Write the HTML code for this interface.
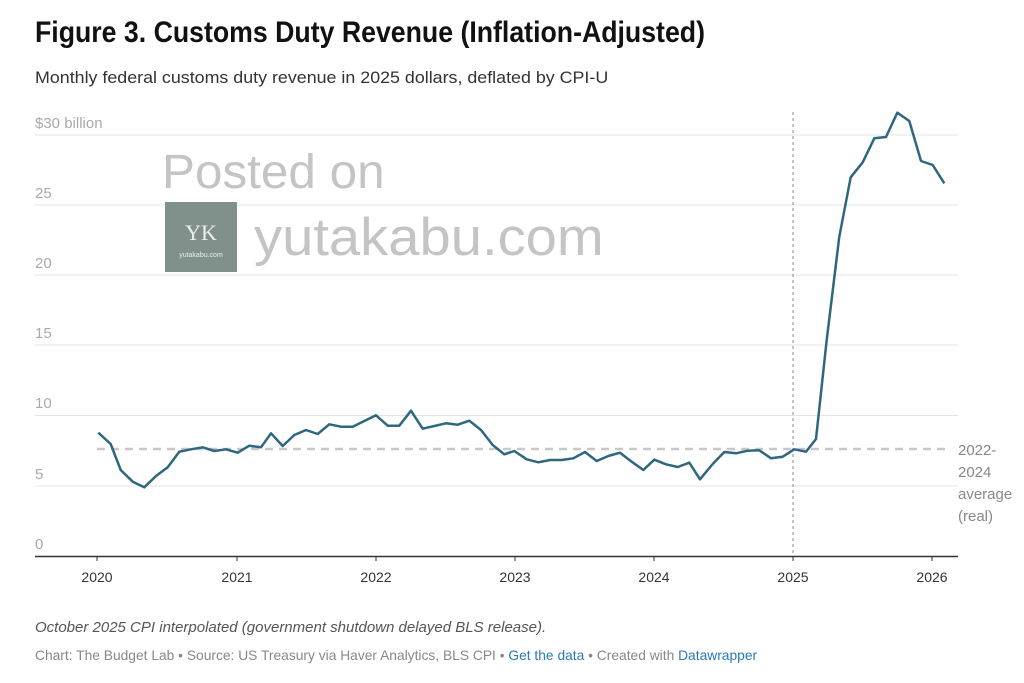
<!DOCTYPE html>
<html><head><meta charset="utf-8"><style>
body{margin:0;background:#fff;width:1024px;height:683px;overflow:hidden;font-family:"Liberation Sans",sans-serif;}
svg{position:absolute;left:0;top:0}
</style></head><body>
<svg width="1024" height="683" xmlns="http://www.w3.org/2000/svg" font-family="Liberation Sans, sans-serif">
<text x="35" y="42" font-size="30" font-weight="bold" fill="#111" transform="translate(35 0) scale(0.89 1) translate(-35 0)">Figure 3. Customs Duty Revenue (Inflation-Adjusted)</text>
<text x="35" y="83" font-size="17" fill="#333" transform="translate(35 0) scale(1.05 1) translate(-35 0)">Monthly federal customs duty revenue in 2025 dollars, deflated by CPI-U</text>
<g stroke="#e4e4e4" stroke-width="1">
<line x1="35" x2="958" y1="135" y2="135"/><line x1="35" x2="958" y1="205" y2="205"/>
<line x1="35" x2="958" y1="275" y2="275"/><line x1="35" x2="958" y1="345" y2="345"/>
<line x1="35" x2="958" y1="415.5" y2="415.5"/><line x1="35" x2="958" y1="486" y2="486"/>
</g>
<g font-size="15" fill="#aaa">
<text x="35" y="128">$30 billion</text><text x="35" y="198">25</text><text x="35" y="268">20</text>
<text x="35" y="338">15</text><text x="35" y="408">10</text><text x="35" y="479">5</text><text x="35" y="549">0</text>
</g>
<text x="162" y="188" font-size="48" fill="#c4c4c4" transform="translate(162 0) scale(1.03 1) translate(-162 0)">Posted on</text>
<rect x="165" y="202" width="72" height="70" fill="#7f918a"/>
<text x="201" y="240" font-size="22" fill="#eee" text-anchor="middle" font-family="Liberation Serif, serif">YK</text>
<text x="201" y="257" font-size="7" fill="#eee" text-anchor="middle">yutakabu.com</text>
<text x="254" y="255" font-size="53" fill="#c4c4c4" transform="translate(254 0) scale(1.06 1) translate(-254 0)">yutakabu.com</text>
<line x1="97" x2="945" y1="449" y2="449" stroke="#c8c8c8" stroke-width="2.5" stroke-dasharray="8,6"/>
<line x1="793" x2="793" y1="112" y2="556" stroke="#888" stroke-width="1" stroke-dasharray="3,3"/>
<line x1="35" x2="958" y1="556.5" y2="556.5" stroke="#333" stroke-width="1.5"/>
<g stroke="#333"><line x1="97" x2="97" y1="556" y2="561"/><line x1="237" x2="237" y1="556" y2="561"/><line x1="376" x2="376" y1="556" y2="561"/><line x1="515" x2="515" y1="556" y2="561"/><line x1="654" x2="654" y1="556" y2="561"/><line x1="793" x2="793" y1="556" y2="561"/><line x1="932" x2="932" y1="556" y2="561"/></g>
<g font-size="14" fill="#333" text-anchor="middle">
<text x="97" y="582">2020</text><text x="237" y="582">2021</text><text x="376" y="582">2022</text><text x="515" y="582">2023</text><text x="654" y="582">2024</text><text x="793" y="582">2025</text><text x="932" y="582">2026</text>
</g>
<polyline fill="none" stroke="#2f6680" stroke-width="2.5" stroke-linejoin="round" points="98.3,432.7 110.7,444 120.7,470 132.7,481.7 144.3,487.3 156,476 167.7,467.3 179.3,451.7 191,449.3 202.7,447.3 214.3,451 226,449.3 237.7,452.7 249.3,445.7 261,447.3 271,433.3 282.7,446 294.3,435 306,430 317.7,434 329.3,424.3 341,426.7 352.7,426.7 364.3,421 376,415.3 387.7,425.7 399.3,425.7 411,410.7 422.7,428.7 434.3,426 446,423.3 457.7,424.7 469.3,420.7 481,430 492.7,445 504.3,454.3 514.3,451 526.7,459.3 538.3,462.3 550,460 561.7,460 573.3,458.3 585,452 596.7,461 608.3,456 620,452.7 631.7,461.7 643.3,470 654.3,459.7 666,464.3 677.7,467 689.3,462.7 700,479.3 712.7,464 724.3,452 736,453.3 747.7,450.7 759.3,450.3 771,458.3 782.7,456.7 794.3,449.3 806,451.7 816,439 826.7,340 839.3,236.7 850.7,177.3 862.7,162.3 874.3,138.3 886,137 897.3,112.7 909.3,121 921,161 932.7,165 944.3,183.3"/>
<g font-size="15" fill="#888">
<text x="958" y="455">2022-</text><text x="958" y="477">2024</text><text x="958" y="499">average</text><text x="958" y="521">(real)</text>
</g>
<text x="35" y="632" font-size="15" font-style="italic" fill="#555">October 2025 CPI interpolated (government shutdown delayed BLS release).</text>
<text x="35" y="660" font-size="13.8" fill="#888">Chart: The Budget Lab • Source: US Treasury via Haver Analytics, BLS CPI • <tspan fill="#2a7ab8">Get the data</tspan> • Created with <tspan fill="#2a7ab8">Datawrapper</tspan></text>
</svg>
</body></html>
